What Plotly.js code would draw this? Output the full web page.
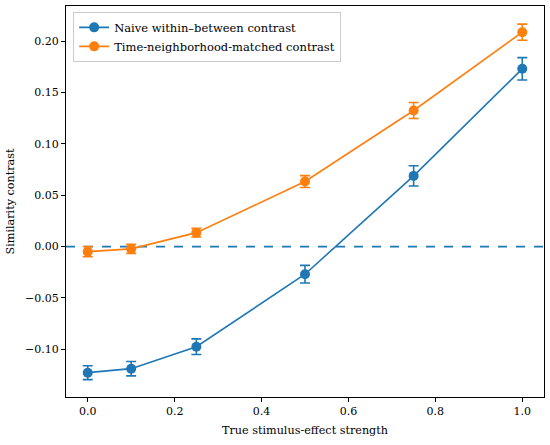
<!DOCTYPE html>
<html>
<head>
<meta charset="utf-8">
<script src="https://cdn.plot.ly/plotly-3.0.1.min.js"></script>
<style>html,body{margin:0;padding:0;background:#fff;}#chart{width:550px;height:445px;}</style>
</head>
<body>
<div id="chart"></div>
<script>
const strengths = [0.0, 0.1, 0.25, 0.5, 0.75, 1.0];
const naiveValues = [-0.1228, -0.1189, -0.0975, -0.0269, 0.0689, 0.1732];
const naiveErrors = [0.0068, 0.0070, 0.0076, 0.0086, 0.0099, 0.0109];
const matchedValues = [-0.0049, -0.0022, 0.0136, 0.0634, 0.1326, 0.2089];
const matchedErrors = [0.0050, 0.0044, 0.0042, 0.0058, 0.0078, 0.0078];
const seriesNames = ['Naive within\u2013between contrast', 'Time-neighborhood-matched contrast'];
const xTicks = [0.0, 0.2, 0.4, 0.6, 0.8, 1.0];
const xTickLabels = ['0.0', '0.2', '0.4', '0.6', '0.8', '1.0'];
const yTicks = [-0.10, -0.05, 0.00, 0.05, 0.10, 0.15, 0.20];
const yTickLabels = ['\u22120.10', '\u22120.05', '0.00', '0.05', '0.10', '0.15', '0.20'];

const blue = '#1f77b4', orange = '#ff7f0e';
const font = 'DejaVu Serif';

function series(y, e, name, color) {
  return {
    x: strengths, y: y, name: name, type: 'scatter', mode: 'lines+markers',
    line: {color: color, width: 1.6},
    marker: {color: color, size: 10},
    error_y: {type: 'data', array: e, visible: true, color: color, thickness: 1.6, width: 5}
  };
}

const data = [
  series(naiveValues, naiveErrors, seriesNames[0], blue),
  series(matchedValues, matchedErrors, seriesNames[1], orange)
];

const layout = {
  width: 550, height: 445,
  margin: {l: 66, r: 6, t: 6, b: 48},
  paper_bgcolor: '#fff', plot_bgcolor: '#fff',
  font: {family: font, size: 11.2, color: '#000'},
  showlegend: true,
  legend: {x: 0.015, y: 0.985, xanchor: 'left', yanchor: 'top',
    bgcolor: 'rgba(255,255,255,0.8)', bordercolor: '#ccc', borderwidth: 1,
    font: {family: font, size: 11.5}, tracegroupgap: 0},
  xaxis: {
    range: [-0.05, 1.05], tickvals: xTicks, ticktext: xTickLabels,
    ticks: 'outside', ticklen: 4, tickcolor: '#000', showgrid: false, zeroline: false,
    showline: true, linecolor: '#000', linewidth: 1, mirror: true,
    tickfont: {family: font, size: 11},
    title: {text: 'True stimulus-effect strength', font: {family: font, size: 11.2}, standoff: 8}
  },
  yaxis: {
    range: [-0.1465, 0.2344], tickvals: yTicks, ticktext: yTickLabels,
    ticks: 'outside', ticklen: 4, tickcolor: '#000', showgrid: false, zeroline: false,
    showline: true, linecolor: '#000', linewidth: 1, mirror: true,
    tickfont: {family: font, size: 11},
    title: {text: 'Similarity contrast', font: {family: font, size: 11.2}, standoff: 8}
  },
  shapes: [{type: 'line', xref: 'paper', x0: 0, x1: 1, yref: 'y', y0: 0, y1: 0,
    line: {color: blue, width: 1.6, dash: 'dash'}, layer: 'below'}]
};

Plotly.newPlot('chart', data, layout, {displayModeBar: false, staticPlot: true});
</script>
</body>
</html>
